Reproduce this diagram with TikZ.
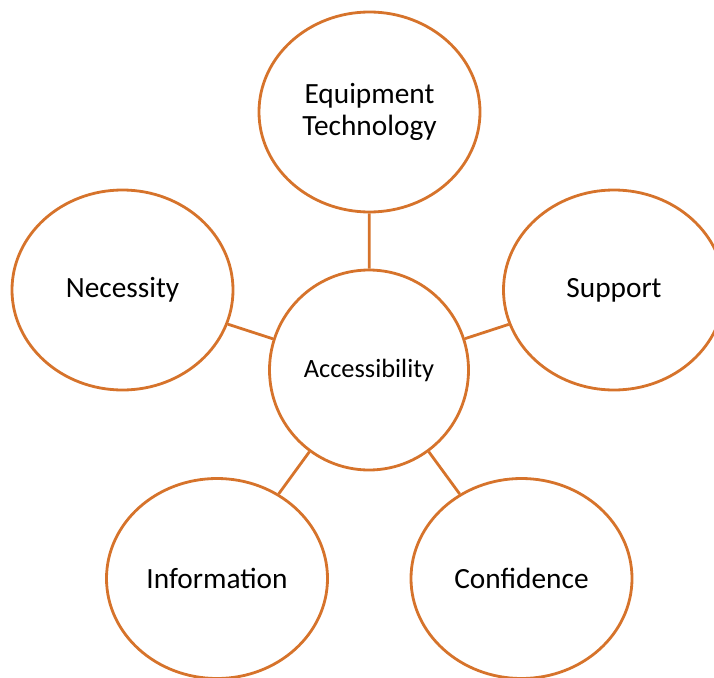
\documentclass[tikz,border=0pt]{standalone}
\usepackage{fontspec}
\setmainfont{Carlito}
\usetikzlibrary{shapes.geometric}
\definecolor{ringorange}{RGB}{214,115,43}
\begin{document}
\begin{tikzpicture}[x=0.75pt,y=-0.75pt,
  ring/.style={ellipse,draw=ringorange,line width=2.1pt,fill=white,
    minimum width=#1*0.75pt,minimum height=200*0.75pt,inner sep=0pt,align=center},
  ring/.default=221,
  labeltext/.style={font=\fontsize{22}{26}\selectfont},
  link/.style={draw=ringorange,line width=2.1pt}]
\useasboundingbox (0,0) rectangle (714,678);
\node[ring=199,font=\fontsize{19.8}{23}\selectfont] (hub) at (369,370) {Accessibility};
\node[ring,font=\fontsize{22}{24}\selectfont] (equip) at (369.5,112) {Equipment\\Technology};
\node[ring,labeltext] (need) at (122.5,290) {Necessity};
\node[ring,labeltext] (supp) at (614,290) {Support};
\node[ring,labeltext] (info) at (217,578.5) {Information};
\node[ring,labeltext] (conf) at (521.5,578.5) {Confidence};
\foreach \n in {equip,need,supp,info,conf}
  \path[link] (hub) -- (\n);
\end{tikzpicture}
\end{document}
